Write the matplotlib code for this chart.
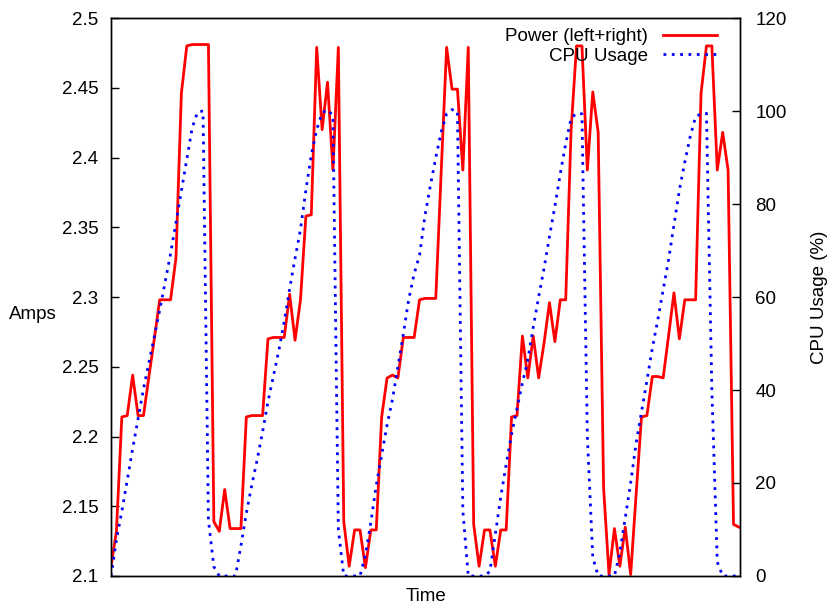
import numpy as np
import matplotlib
matplotlib.use('Agg')
import matplotlib.pyplot as plt

plt.rcParams['font.family'] = ['Liberation Sans', 'DejaVu Sans']

# power draw in amps, one sample per time step
power = [2.107, 2.132, 2.214, 2.215, 2.244, 2.215, 2.215, 2.243, 2.270, 2.298,
         2.298, 2.298, 2.328, 2.446, 2.480, 2.481, 2.481, 2.481, 2.481, 2.139,
         2.132, 2.162, 2.134, 2.134, 2.134, 2.214, 2.215, 2.215, 2.215, 2.270,
         2.271, 2.271, 2.271, 2.302, 2.269, 2.298, 2.358, 2.359, 2.479, 2.420,
         2.454, 2.391, 2.479, 2.139, 2.107, 2.133, 2.133, 2.106, 2.133, 2.133,
         2.214, 2.242, 2.244, 2.242, 2.271, 2.271, 2.271, 2.298, 2.299, 2.299,
         2.299, 2.390, 2.479, 2.449, 2.449, 2.391, 2.479, 2.137, 2.107, 2.133,
         2.133, 2.107, 2.133, 2.133, 2.214, 2.215, 2.272, 2.242, 2.272, 2.242,
         2.267, 2.296, 2.268, 2.298, 2.298, 2.420, 2.480, 2.480, 2.391, 2.447,
         2.418, 2.163, 2.101, 2.134, 2.107, 2.135, 2.101, 2.158, 2.214, 2.215,
         2.243, 2.243, 2.242, 2.272, 2.303, 2.270, 2.298, 2.298, 2.298, 2.446,
         2.480, 2.480, 2.391, 2.418, 2.391, 2.137, 2.135]

# cpu usage in percent, same time steps
cpu = [0, 7.8, 13.9, 20.6, 27.4, 33.8, 40.2, 45.9, 51.5, 57.2,
       63.2, 69.3, 76, 82.8, 89.6, 96.4, 99.8, 100, 12, 2,
       0, 0, 0, 0, 6.5, 13.5, 19.5, 25, 31, 37.5,
       43, 48.5, 54.7, 61.8, 68.3, 74.5, 83, 90.5, 96, 99.6,
       100.3, 99, 10, 0, 0, 0, 0, 4.5, 11.5, 19.5,
       26, 32.5, 38, 45, 52, 59.5, 65, 69, 77.5, 84,
       90, 95.5, 99.4, 100.3, 100, 14, 0, 0, 0, 0,
       1, 9, 17, 24, 30.5, 36, 41.5, 46.5, 53.5, 60,
       66.2, 73, 79.5, 86.5, 93, 98.5, 99.5, 99.4, 30, 4,
       0, 0, 0, 0, 5, 12.5, 20, 28.5, 35.3, 42,
       49, 55, 61.5, 68, 75.5, 83, 89, 94.5, 98.8, 99.4,
       99.5, 40, 3, 0, 0, 0, 0]

amp_ticks = [2.1, 2.15, 2.2, 2.25, 2.3, 2.35, 2.4, 2.45, 2.5]
cpu_ticks = [0, 20, 40, 60, 80, 100, 120]

t = np.arange(len(power))
fs = 13.5

fig = plt.figure(figsize=(8.34, 6.09), dpi=100)
ax = fig.add_axes([0.1331, 0.0542, 0.7542, 0.9162])
ax2 = ax.twinx()

l1, = ax.plot(t, power, color='#ff0000', lw=2, label='Power (left+right)')
l2, = ax2.plot(t, cpu, color='#0000ff', lw=2, linestyle=(0, (1, 2)),
               dash_capstyle='butt', label='CPU Usage')

ax.set_xlim(0, 116.2)
ax.set_ylim(2.1, 2.5)
ax2.set_ylim(0, 120)
ax.set_xticks([])
ax.set_yticks(amp_ticks)
ax.set_yticklabels(['%g' % v for v in amp_ticks])
ax2.set_yticks(cpu_ticks)

ax.tick_params(axis='y', direction='in', length=6, width=1, labelsize=fs, pad=9)
ax2.tick_params(axis='y', direction='in', length=6, width=1, labelsize=fs, pad=11)
for a in (ax, ax2):
    for s in a.spines.values():
        s.set_linewidth(1.0)

ax.set_xlabel('Time', fontsize=fs, va='center')
ax.xaxis.set_label_coords(0.5, -0.036)
ax.set_ylabel('Amps', fontsize=fs, rotation=0, ha='center', va='center')
ax.yaxis.set_label_coords(-0.124, 0.468)
ax2.set_ylabel('CPU Usage (%)', fontsize=fs, rotation=90, ha='center', va='center')
ax2.yaxis.set_label_coords(1.127, 0.5)

leg = ax2.legend([l1, l2], ['Power (left+right)', 'CPU Usage'],
                 loc='upper right', bbox_to_anchor=(0.9634, 0.982),
                 frameon=False, fontsize=fs, markerfirst=False,
                 alignment='right', handlelength=2.9, handletextpad=0.76,
                 labelspacing=0.12, borderpad=0, borderaxespad=0)

fig.savefig('out.png', dpi=100)
